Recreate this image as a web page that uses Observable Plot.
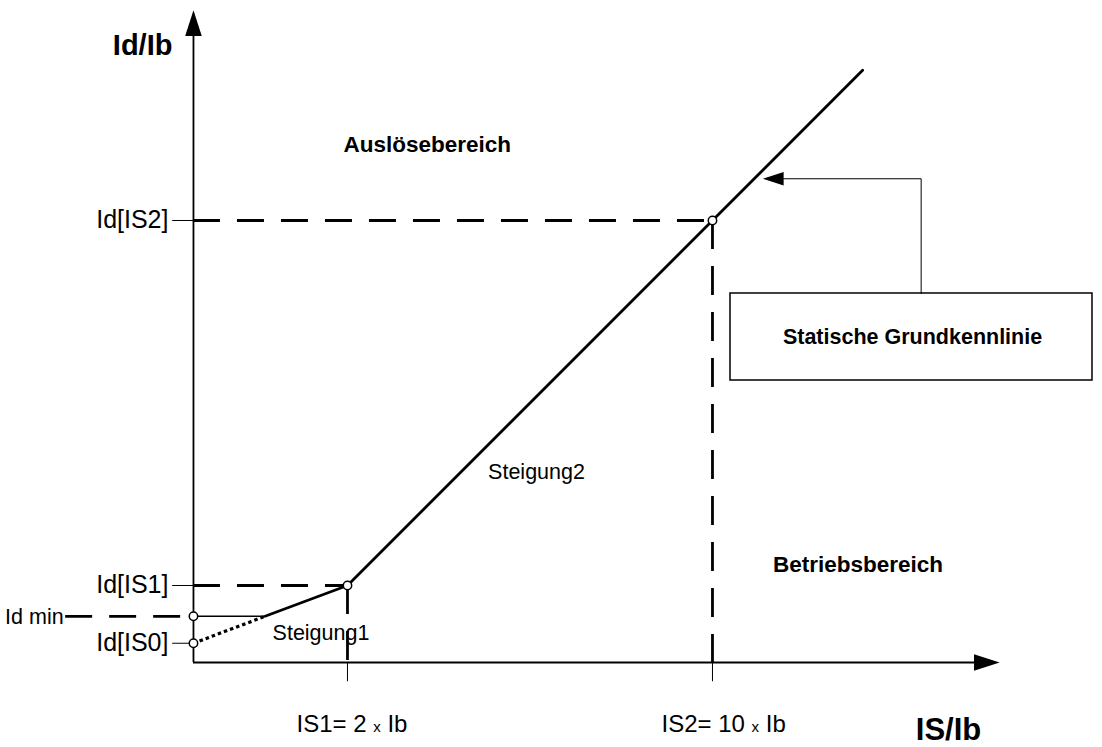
<!DOCTYPE html>
<html><head><meta charset="utf-8">
<script src="https://cdn.jsdelivr.net/npm/d3@7"></script>
<script src="https://cdn.jsdelivr.net/npm/@observablehq/plot@0.6"></script>
<style>html,body{margin:0;padding:0;background:#fff;overflow:hidden}svg{display:block}</style>
</head><body><div id="chart"></div>
<script>
// Schematic characteristic, in diagram units (origin = axis crossing)
const kneeNames = ["IS0", "IS1", "IS2"];
const kneeX = [0, 2, 6.74];
const kneeY = [0.25, 1.0, 5.74];
const idMin = 0.6;
const idMinCrossX = 0.93;
const curveEndX = 8.69;
const curveEndY = 7.69;
const yTickLabels = ["Id[IS2]", "Id[IS1]", "Id[IS0]"];
const yTickValues = [5.74, 1.0, 0.25];
const xTickLabels = ["IS1= 2 x Ib", "IS2= 10 x Ib"];
const xTickValues = [2, 6.74];
const axisEnd = [10.47, 8.47];

const FONT = "Liberation Sans, Arial, Helvetica, sans-serif";

const arrowHead = {
  draw(context, size) {
    const r = Math.sqrt(size / Math.PI);
    context.moveTo(0, 0);
    context.lineTo(-r, 3.1 * r);
    context.lineTo(r, 3.1 * r);
    context.closePath();
  }
};

const solidCurve = [
  {x: idMinCrossX, y: idMin},
  {x: kneeX[1], y: kneeY[1]},
  {x: kneeX[2], y: kneeY[2]},
  {x: curveEndX, y: curveEndY}
];
const dottedCurve = [{x: kneeX[0], y: kneeY[0]}, {x: idMinCrossX, y: idMin}];
const hGuides = [
  {y: idMin, x1: -1.66, x2: 0},
  {y: kneeY[1], x1: 0, x2: kneeX[1]},
  {y: kneeY[2], x1: 0, x2: kneeX[2]}
];
const vGuides = xTickValues.map((x, i) => ({x, y1: kneeY[i + 1], y2: 0}));
const circles = [
  {x: kneeX[0], y: kneeY[0]},
  {x: 0, y: idMin},
  {x: kneeX[1], y: kneeY[1]},
  {x: kneeX[2], y: kneeY[2]}
];
const yTicks = yTickValues.map((y, i) => ({y, label: yTickLabels[i]}));
const xTicks = xTickValues.map((x, i) => ({x, label: xTickLabels[i]}));

const box = {x1: 6.974, x2: 11.675, y1: 3.662, y2: 4.792};
const connector = [{x: 9.45, y: box.y2}, {x: 9.45, y: 6.282}, {x: 7.64, y: 6.282}];

const bold = (data, opts) => Plot.text(data, {fontWeight: "bold", fontFamily: FONT, fill: "black", ...opts});

const chart = Plot.plot({
  width: 1102,
  height: 747,
  marginTop: 0, marginRight: 0, marginBottom: 0, marginLeft: 0,
  x: {domain: [-2.506, 11.805], axis: null},
  y: {domain: [-1.104, 8.597], axis: null},
  style: {background: "white", fontFamily: FONT, color: "black"},
  marks: [
    // axes
    Plot.ruleY([0], {x1: 0, x2: axisEnd[0] - 0.25, stroke: "black", strokeWidth: 1.8}),
    Plot.ruleX([0], {y1: 0, y2: axisEnd[1] - 0.25, stroke: "black", strokeWidth: 1.8}),
    Plot.dot([{x: axisEnd[0], y: 0, a: 90}, {x: 0, y: axisEnd[1], a: 0}],
      {x: "x", y: "y", rotate: "a", symbol: arrowHead, r: 8.3, fill: "black", stroke: "none"}),
    // tick marks
    Plot.ruleY(yTicks, {y: "y", x1: -0.27, x2: 0, stroke: "black", strokeWidth: 1}),
    Plot.ruleX(xTicks, {x: "x", y1: -0.25, y2: 0, stroke: "black", strokeWidth: 1}),
    // dashed guides
    Plot.ruleY(hGuides, {y: "y", x1: "x1", x2: "x2", stroke: "black", strokeWidth: 2.8, strokeDasharray: "27,17", strokeLinecap: "butt"}),
    Plot.ruleX(vGuides, {x: "x", y1: "y1", y2: "y2", stroke: "black", strokeWidth: 2.8, strokeDasharray: "29,17", strokeLinecap: "butt"}),
    // Id min plateau
    Plot.ruleY([idMin], {x1: 0, x2: idMinCrossX, stroke: "black", strokeWidth: 1.6}),
    // characteristic
    Plot.line(dottedCurve, {x: "x", y: "y", stroke: "black", strokeWidth: 3.2, strokeDasharray: "3.5,3", strokeLinecap: "butt"}),
    Plot.line(solidCurve, {x: "x", y: "y", stroke: "black", strokeWidth: 2.8}),
    // annotation box + connector
    Plot.rect([box], {x1: "x1", x2: "x2", y1: "y1", y2: "y2", fill: "white", stroke: "black", strokeWidth: 1.5}),
    Plot.line(connector, {x: "x", y: "y", stroke: "black", strokeWidth: 1, strokeLinejoin: "miter"}),
    Plot.dot([{x: 7.394, y: 6.282, a: -90}], {x: "x", y: "y", rotate: "a", symbol: arrowHead, r: 6.7, fill: "black", stroke: "none"}),
    // knee points
    Plot.dot(circles, {x: "x", y: "y", r: 4.2, fill: "white", stroke: "black", strokeWidth: 1.5}),
    // tick labels
    Plot.text(yTicks, {x: 0, y: "y", text: "label", textAnchor: "end", dx: -25, fontSize: 25, fontFamily: FONT, fill: "black"}),
    Plot.text(["Id min"], {x: -1.66, y: idMin, text: d => d, textAnchor: "end", dx: -2, dy: 1, fontSize: 21.5, fontFamily: FONT, fill: "black"}),
    Plot.text(xTicks, {x: "x", y: -0.8, text: "label", textAnchor: "start", dx: -51, fontSize: 24, fontFamily: FONT, fill: "black"}),
    // region labels
    bold(["Auslösebereich"], {x: 3.035, y: 6.723, text: d => d, fontSize: 22.5}),
    bold(["Betriebsbereich"], {x: 8.63, y: 1.268, text: d => d, fontSize: 22.5}),
    bold(["Statische Grundkennlinie"], {x: 9.338, y: 4.227, text: d => d, fontSize: 21.5}),
    Plot.text(["Steigung2"], {x: 4.455, y: 2.477, text: d => d, fontSize: 21.5, fontFamily: FONT, fill: "black"}),
    Plot.text(["Steigung1"], {x: 1.656, y: 0.386, text: d => d, fontSize: 21.5, fontFamily: FONT, fill: "black"}),
    // axis titles
    bold(["Id/Ib"], {x: -0.66, y: 8.004, text: d => d, fontSize: 29}),
    bold(["IS/Ib"], {x: 9.805, y: -0.875, text: d => d, fontSize: 31})
  ]
});

// shrink the multiplication "x" in the x tick labels
d3.select(chart).selectAll("text").each(function () {
  const t = this.textContent;
  const m = t.match(/^(.*) x (.*)$/);
  if (!m) return;
  const sel = d3.select(this);
  sel.text(null);
  sel.append("tspan").text(m[1] + " ");
  sel.append("tspan").attr("font-size", 15).text("x");
  sel.append("tspan").text(" " + m[2]);
});

document.getElementById("chart").appendChild(chart);
</script>
</body></html>
